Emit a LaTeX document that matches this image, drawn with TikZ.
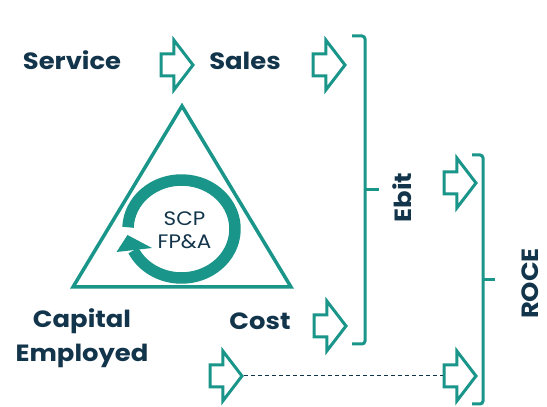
\documentclass[tikz,border=0pt]{standalone}
\usepackage{fontspec}
\setmainfont{Poppins}[FakeStretch=1.1]
\usetikzlibrary{shapes,arrows,calc,positioning,backgrounds}
\definecolor{scpteal}{RGB}{26,149,137}
\definecolor{scpnavy}{RGB}{19,53,75}

\begin{document}
\begin{tikzpicture}[x=1pt, y=1pt,
    label/.style={font=\bfseries\fontsize{23.5}{34}\selectfont, text=scpnavy, align=center, inner sep=0pt},
    flow/.style={single arrow, draw=scpteal, fill=white, line width=3pt, inner xsep=0pt, inner ysep=9.5pt,
      minimum height=32pt, single arrow head extend=14pt, single arrow tip angle=105, anchor=tail},
    bracket/.style={draw=scpteal, line width=3pt, rounded corners=3pt}]
  \useasboundingbox (0,0) rectangle (547,407);

  % triangle with the planning cycle
  \draw[scpteal, line width=3.5pt, line join=miter] (182,301) -- (291,120) -- (73,120) -- cycle;
  \coordinate (ring) at (181.5,178);
  \draw[scpteal, line width=11.5pt] ($(ring)+({53.5*cos(178)},{49*sin(178)})$)
    arc[start angle=178, end angle=-154, x radius=53.5, y radius=49];
  \fill[scpteal] ($(ring)+(-65,-23)$) -- ($(ring)+(-54,-6)$) -- ($(ring)+(-29.5,-19)$) -- cycle;
  \node[font=\fontsize{19.5}{23}\selectfont, text=scpnavy, align=center] (core) at (184.5,177) {SCP\\FP\&A};

  % drivers
  \node[label, anchor=base] (service) at (72,337.5) {Service};
  \node[label, anchor=base] (sales) at (245,337.5) {Sales};
  \node[label] (capital) at (82,69) {Capital\\Employed};
  \node[label, anchor=base] (cost) at (260,77) {Cost};

  \node[flow] (a1) at (159.5,342) {};
  \node[flow] (a2) at (311.5,342) {};
  \node[flow] (a3) at (312.5,81) {};
  \node[flow] (a4) at (442.5,224) {};
  \node[flow] (a5) at (208.5,31) {};
  \node[flow] (a6) at (442.5,31) {};
  \draw[scpnavy, line width=1pt, dash pattern=on 4pt off 3pt] (a5.tip) -- (a6.tail);

  % brackets
  \draw[bracket] (352,371) -- (365,371) -- (365,63) -- (352,63);
  \draw[bracket] (365,217) -- (379,217);
  \node[label, rotate=90] (ebit) at (402.5,209.5) {Ebit};

  \draw[bracket] (472,252) -- (483,252) -- (483,3) -- (472,3);
  \draw[bracket] (483,127) -- (495,127);
  \node[label, rotate=90] (roce) at (530.5,123.5) {ROCE};
\end{tikzpicture}
\end{document}
